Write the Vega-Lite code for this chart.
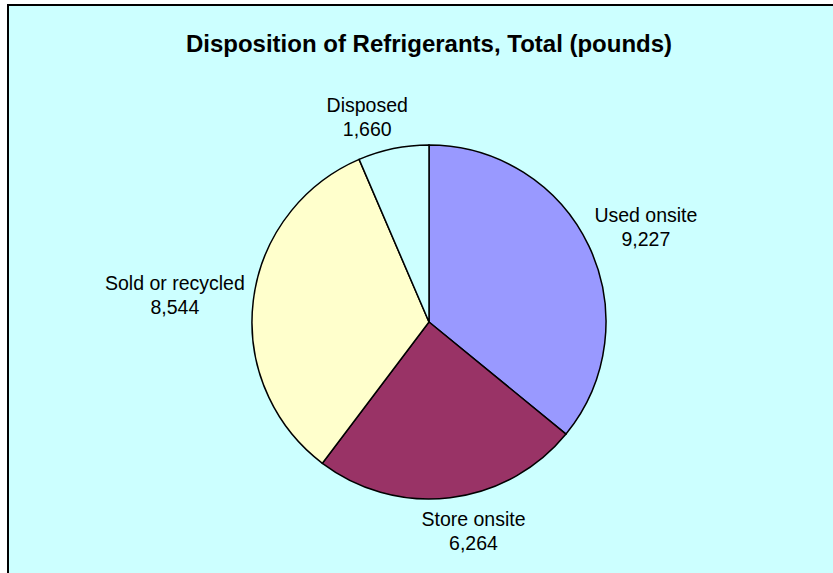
{
  "$schema": "https://vega.github.io/schema/vega-lite/v6.json",
  "width": 842,
  "height": 634,
  "autosize": {"type": "none"},
  "padding": {"left": 8, "top": 5, "right": 0, "bottom": 0},
  "background": "white",
  "view": {"fill": "#CCFFFF", "stroke": "black", "strokeWidth": 2},
  "title": {
    "text": "Disposition of Refrigerants, Total (pounds)",
    "font": "Liberation Sans",
    "fontSize": 24,
    "fontWeight": "bold",
    "color": "black",
    "anchor": "middle",
    "frame": "group",
    "offset": -52
  },
  "data": {
    "values": [
      {"category": "Used onsite", "pounds": 9227},
      {"category": "Store onsite", "pounds": 6264},
      {"category": "Sold or recycled", "pounds": 8544},
      {"category": "Disposed", "pounds": 1660}
    ]
  },
  "transform": [
    {"window": [{"op": "row_number", "as": "order"}]},
    {"calculate": "datum.category + '\\n' + format(datum.pounds, ',')", "as": "label"}
  ],
  "encoding": {
    "theta": {"field": "pounds", "type": "quantitative", "stack": true},
    "order": {"field": "order", "type": "quantitative"}
  },
  "layer": [
    {
      "mark": {"type": "arc", "outerRadius": 177, "stroke": "black", "strokeWidth": 1.5},
      "encoding": {
        "color": {
          "field": "category",
          "type": "nominal",
          "scale": {
            "domain": ["Used onsite", "Store onsite", "Sold or recycled", "Disposed"],
            "range": ["#9999FF", "#993366", "#FFFFCC", "#CCFFFF"]
          },
          "legend": null
        }
      }
    },
    {
      "mark": {"type": "text", "radius": 240, "dy": -3, "font": "Liberation Sans", "fontSize": 19.5, "color": "black", "lineBreak": "\n", "lineHeight": 23.5, "align": "center", "baseline": "middle"},
      "encoding": {
        "text": {
          "condition": {"test": "datum.category === 'Used onsite'", "field": "label", "type": "nominal"},
          "value": ""
        }
      }
    },
    {
      "mark": {"type": "text", "radius": 256, "dy": -7, "font": "Liberation Sans", "fontSize": 19.5, "color": "black", "lineBreak": "\n", "lineHeight": 23.5, "align": "center", "baseline": "middle"},
      "encoding": {
        "text": {
          "condition": {"test": "datum.category === 'Sold or recycled'", "field": "label", "type": "nominal"},
          "value": ""
        }
      }
    },
    {
      "mark": {"type": "text", "radius": 214, "thetaOffset": -0.09, "dy": -11, "font": "Liberation Sans", "fontSize": 19.5, "color": "black", "lineBreak": "\n", "lineHeight": 23.5, "align": "center", "baseline": "middle"},
      "encoding": {
        "text": {
          "condition": {"test": "datum.category === 'Store onsite' || datum.category === 'Disposed'", "field": "label", "type": "nominal"},
          "value": ""
        }
      }
    }
  ]
}
